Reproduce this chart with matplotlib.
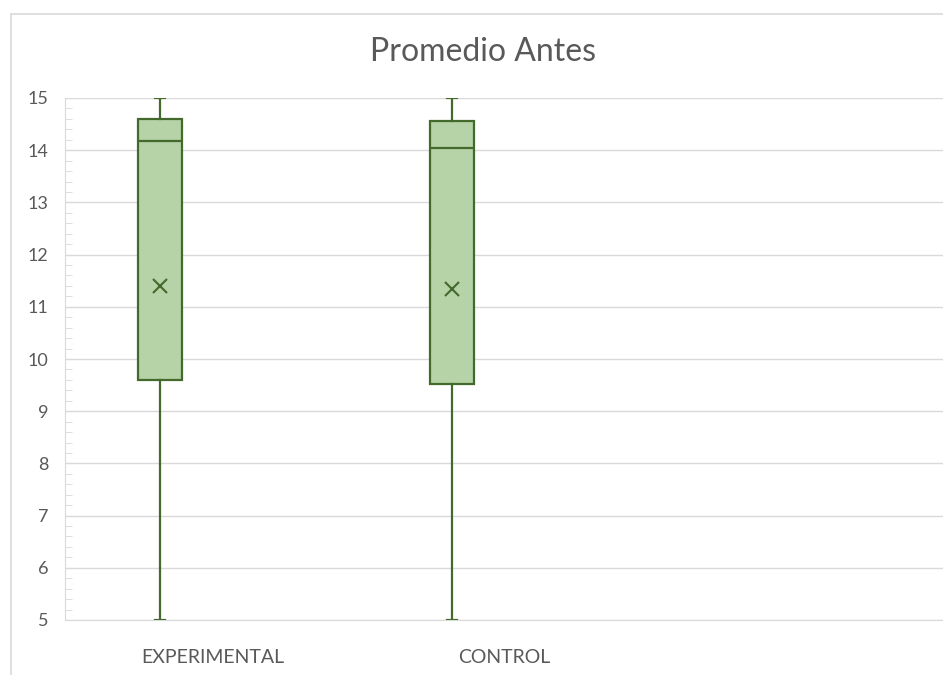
import matplotlib
matplotlib.use("Agg")
import matplotlib.pyplot as plt
from matplotlib.patches import Rectangle
from matplotlib.ticker import MultipleLocator

categories = ["EXPERIMENTAL", "CONTROL"]
whisker_low = [5.0, 5.0]
q1 = [9.6, 9.52]
median = [14.17, 14.05]
q3 = [14.6, 14.56]
whisker_high = [15.0, 15.0]
mean = [11.39, 11.35]

W, H = 943, 675
fig = plt.figure(figsize=(W / 100, H / 100), dpi=100)
plt.rcParams['font.family'] = ['Lato', 'DejaVu Sans']

# chart frame
fig.patches.append(Rectangle((11 / W, -0.1), 1.2, 1.1 - 14 / H, transform=fig.transFigure,
                             fill=False, edgecolor='#d9d9d9', linewidth=1.2))

left, right, top, bottom = 65, 943, 98, 620
ax = fig.add_axes([left / W, 1 - bottom / H, (right - left) / W, (bottom - top) / H])

stats = []
for i, c in enumerate(categories):
    stats.append(dict(label=c, whislo=whisker_low[i], q1=q1[i], med=median[i],
                      q3=q3[i], whishi=whisker_high[i], mean=mean[i], fliers=[]))

dark = '#43692c'
fill = '#b5d3a6'
positions = list(range(len(categories)))
label_offset = 0.18
ax.bxp(stats, positions=positions, widths=0.15, showmeans=True, patch_artist=True,
       boxprops=dict(facecolor=fill, edgecolor=dark, linewidth=1.6),
       medianprops=dict(color=dark, linewidth=1.6),
       whiskerprops=dict(color=dark, linewidth=1.6),
       capprops=dict(color=dark, linewidth=1.6),
       capwidths=0.035,
       meanprops=dict(marker='x', markeredgecolor=dark, markersize=10, markeredgewidth=1.5),
       manage_ticks=False, zorder=3)

ax.set_xlim(-0.325, 2.68)
ax.set_ylim(5, 15)
ax.set_xticks([p + label_offset for p in positions])
ax.set_xticklabels(categories)
ax.yaxis.set_major_locator(MultipleLocator(1))
ax.yaxis.set_minor_locator(MultipleLocator(0.2))
ax.grid(axis='y', which='major', color='#d9d9d9', linewidth=1.0, zorder=0)
ax.set_axisbelow(True)
for s in ['top', 'right']:
    ax.spines[s].set_visible(False)
ax.spines['left'].set_color('#d9d9d9')
ax.spines['bottom'].set_color('#d9d9d9')
ax.tick_params(axis='x', length=0, pad=21, labelsize=14, labelcolor='#595959')
ax.tick_params(axis='y', which='major', length=0, pad=12, labelsize=13, labelcolor='#595959')
ax.tick_params(axis='y', which='minor', direction='in', length=5, color='#d9d9d9')

fig.text(483 / W, 1 - 52 / H, "Promedio Antes", ha='center', va='center',
         fontsize=23, color='#595959')

fig.savefig("out.png", dpi=100)
